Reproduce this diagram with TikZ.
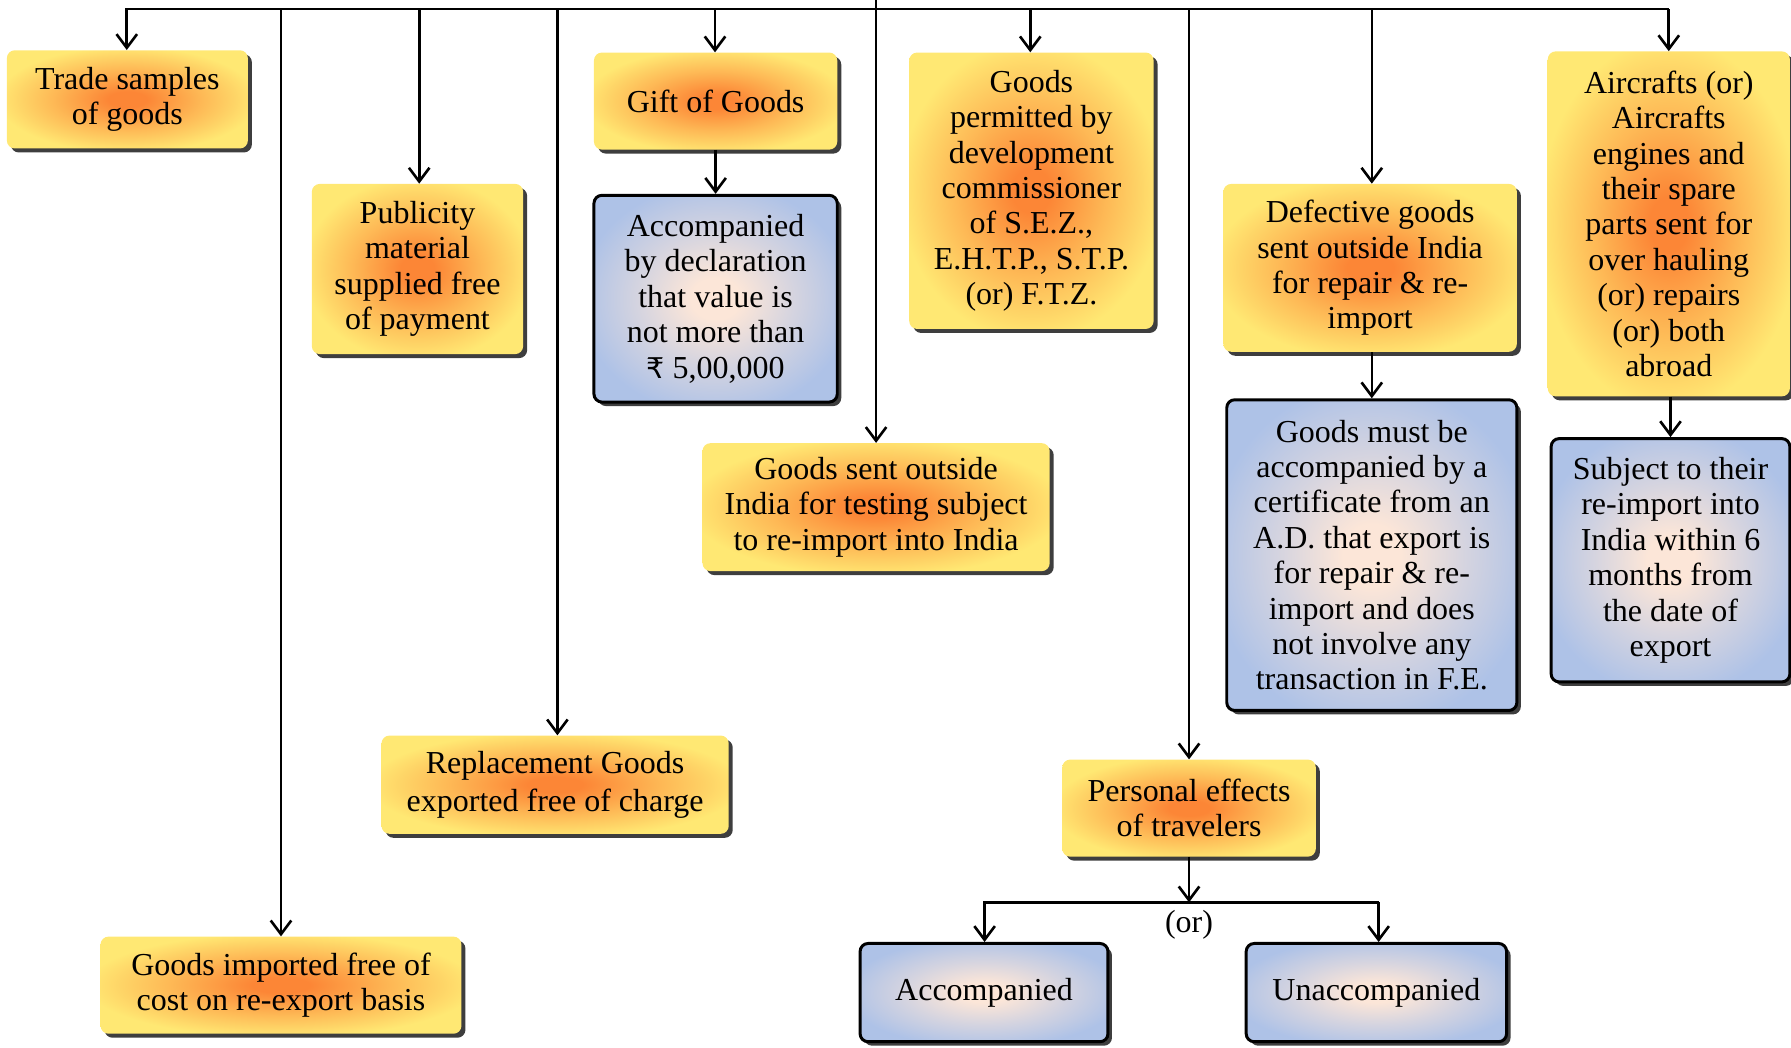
\documentclass[tikz,border=0pt]{standalone}
\usepackage{fontspec}
\setmainfont{Liberation Serif}
\newfontfamily\rupeefont{DejaVu Sans}
\usetikzlibrary{arrows.meta,shadows}

\definecolor{boxyellow}{HTML}{FFE873}
\definecolor{boxorange}{HTML}{FC8636}
\definecolor{boxblue}{HTML}{AEC2E7}
\definecolor{boxpeach}{HTML}{FCE6D8}
\definecolor{shadowgray}{HTML}{3E3E3E}
\colorlet{boxmid}{boxorange!50!boxyellow}
\colorlet{boxmidblue}{boxpeach!50!boxblue}

% soft glow in the middle of each card
\pgfdeclareradialshading{warmglow}{\pgfpoint{0bp}{0bp}}{color(0bp)=(boxorange); color(4bp)=(boxorange); color(15bp)=(boxmid); color(27bp)=(boxyellow); color(50bp)=(boxyellow)}
\pgfdeclareradialshading{coolglow}{\pgfpoint{0bp}{0bp}}{color(0bp)=(boxpeach); color(5bp)=(boxpeach); color(16bp)=(boxmidblue); color(28bp)=(boxblue); color(50bp)=(boxblue)}

\tikzset{
  card/.style={rounded corners=7pt, align=center, inner sep=2pt,
    font=\fontsize{28}{31}\selectfont,
    drop shadow={shadow xshift=3.5pt, shadow yshift=-3.5pt, fill=shadowgray, opacity=1}},
  ycard/.style={card, shading=warmglow},
  bcard/.style={card, shading=coolglow, draw=black, line width=2.6pt},
  link/.style={line width=2.3pt, -{Straight Barb[length=12pt,width=18pt]}},
}

\begin{document}
\begin{tikzpicture}[x=1pt, y=-1pt]
\useasboundingbox (0,0) rectangle (1568,917);

% cards
\node[ycard, minimum width=211pt, minimum height=86pt] (trade) at (111.5,87) {Trade samples\\of goods};
\node[ycard, minimum width=316pt, minimum height=85pt] (imported) at (246,862.5) {Goods imported free of\\cost on re-export basis};
\node[ycard, minimum width=185pt, minimum height=149pt] (publicity) at (365.5,235.5) {Publicity\\material\\supplied free\\of payment};
\node[ycard, minimum width=304pt, minimum height=86pt] (replace) at (486,687) {Replacement Goods\\[2pt]exported free of charge};
\node[ycard, minimum width=213pt, minimum height=85pt] (gift) at (626.5,88.5) {Gift of Goods};
\node[bcard, minimum width=213pt, minimum height=181pt] (giftnote) at (626.5,261.5) {Accompanied\\by declaration\\that value is\\not more than\\{\rupeefont\fontsize{25}{31}\selectfont ₹} 5,00,000};
\node[ycard, minimum width=304pt, minimum height=112pt] (testing) at (767,444) {Goods sent outside\\India for testing subject\\to re-import into India};
\node[ycard, minimum width=214pt, minimum height=242pt] (sez) at (903,167) {Goods\\permitted by\\development\\commissioner\\of S.E.Z.,\\E.H.T.P., S.T.P.\\(or) F.T.Z.};
\node[ycard, minimum width=222pt, minimum height=85pt] (personal) at (1041,707.5) {Personal effects\\of travelers};
\node[bcard, minimum width=217pt, minimum height=86pt] (accomp) at (861.5,869) {Accompanied};
\node[bcard, minimum width=228pt, minimum height=86pt] (unaccomp) at (1205,869) {Unaccompanied};
\node[ycard, minimum width=257pt, minimum height=147pt] (defective) at (1199.5,234.5) {Defective goods\\sent outside India\\for repair \& re-\\import};
\node[bcard, minimum width=254pt, minimum height=272pt] (defnote) at (1201,486) {Goods must be\\accompanied by a\\certificate from an\\A.D. that export is\\for repair \& re-\\import and does\\not involve any\\transaction in F.E.};
\node[ycard, minimum width=212pt, minimum height=302pt] (aircraft) at (1461,196) {Aircrafts (or)\\Aircrafts\\engines and\\their spare\\parts sent for\\over hauling\\(or) repairs\\(or) both\\abroad};
\node[bcard, minimum width=209pt, minimum height=213pt] (airnote) at (1462.5,490.5) {Subject to their\\re-import into\\India within 6\\months from\\the date of\\export};

% distribution bus along the top
\coordinate (root) at (767,0);
\coordinate (c1) at (111,8);
\coordinate (c2) at (246,8);
\coordinate (c3) at (367,8);
\coordinate (c4) at (488,8);
\coordinate (c5) at (626,8);
\coordinate (c7) at (902,8);
\coordinate (c8) at (1041,8);
\coordinate (c9) at (1201,8);
\coordinate (c10) at (1461,8);

\draw[link] (c10) -- (c1) -- (c1 |- trade.north);
\draw[link] (c10) -- (c10 |- aircraft.north);
\draw[link] (root) -- (root |- testing.north);
\draw[link] (c2) -- (c2 |- imported.north);
\draw[link] (c3) -- (c3 |- publicity.north);
\draw[link] (c4) -- (c4 |- replace.north);
\draw[link] (c5) -- (c5 |- gift.north);
\draw[link] (c7) -- (c7 |- sez.north);
\draw[link] (c8) -- (c8 |- personal.north);
\draw[link] (c9) -- (c9 |- defective.north);

% follow-up conditions
\draw[link] (gift.south) -- (giftnote.north);
\draw[link] (defective.south -| c9) -- (defnote.north -| c9);
\draw[link] (aircraft.south -| airnote.north) -- (airnote.north);

% personal effects fork
\coordinate (fork) at (1041,790);
\coordinate (forkL) at (862,790);
\coordinate (forkR) at (1207,790);
\draw[link] (personal.south) -- (fork);
\draw[link] (forkR) -- (forkL) -- (forkL |- accomp.north);
\draw[link] (forkR) -- (forkR |- unaccomp.north);
\node[font=\fontsize{28}{31}\selectfont] (orlabel) at (1041,810) {(or)};
\end{tikzpicture}
\end{document}
